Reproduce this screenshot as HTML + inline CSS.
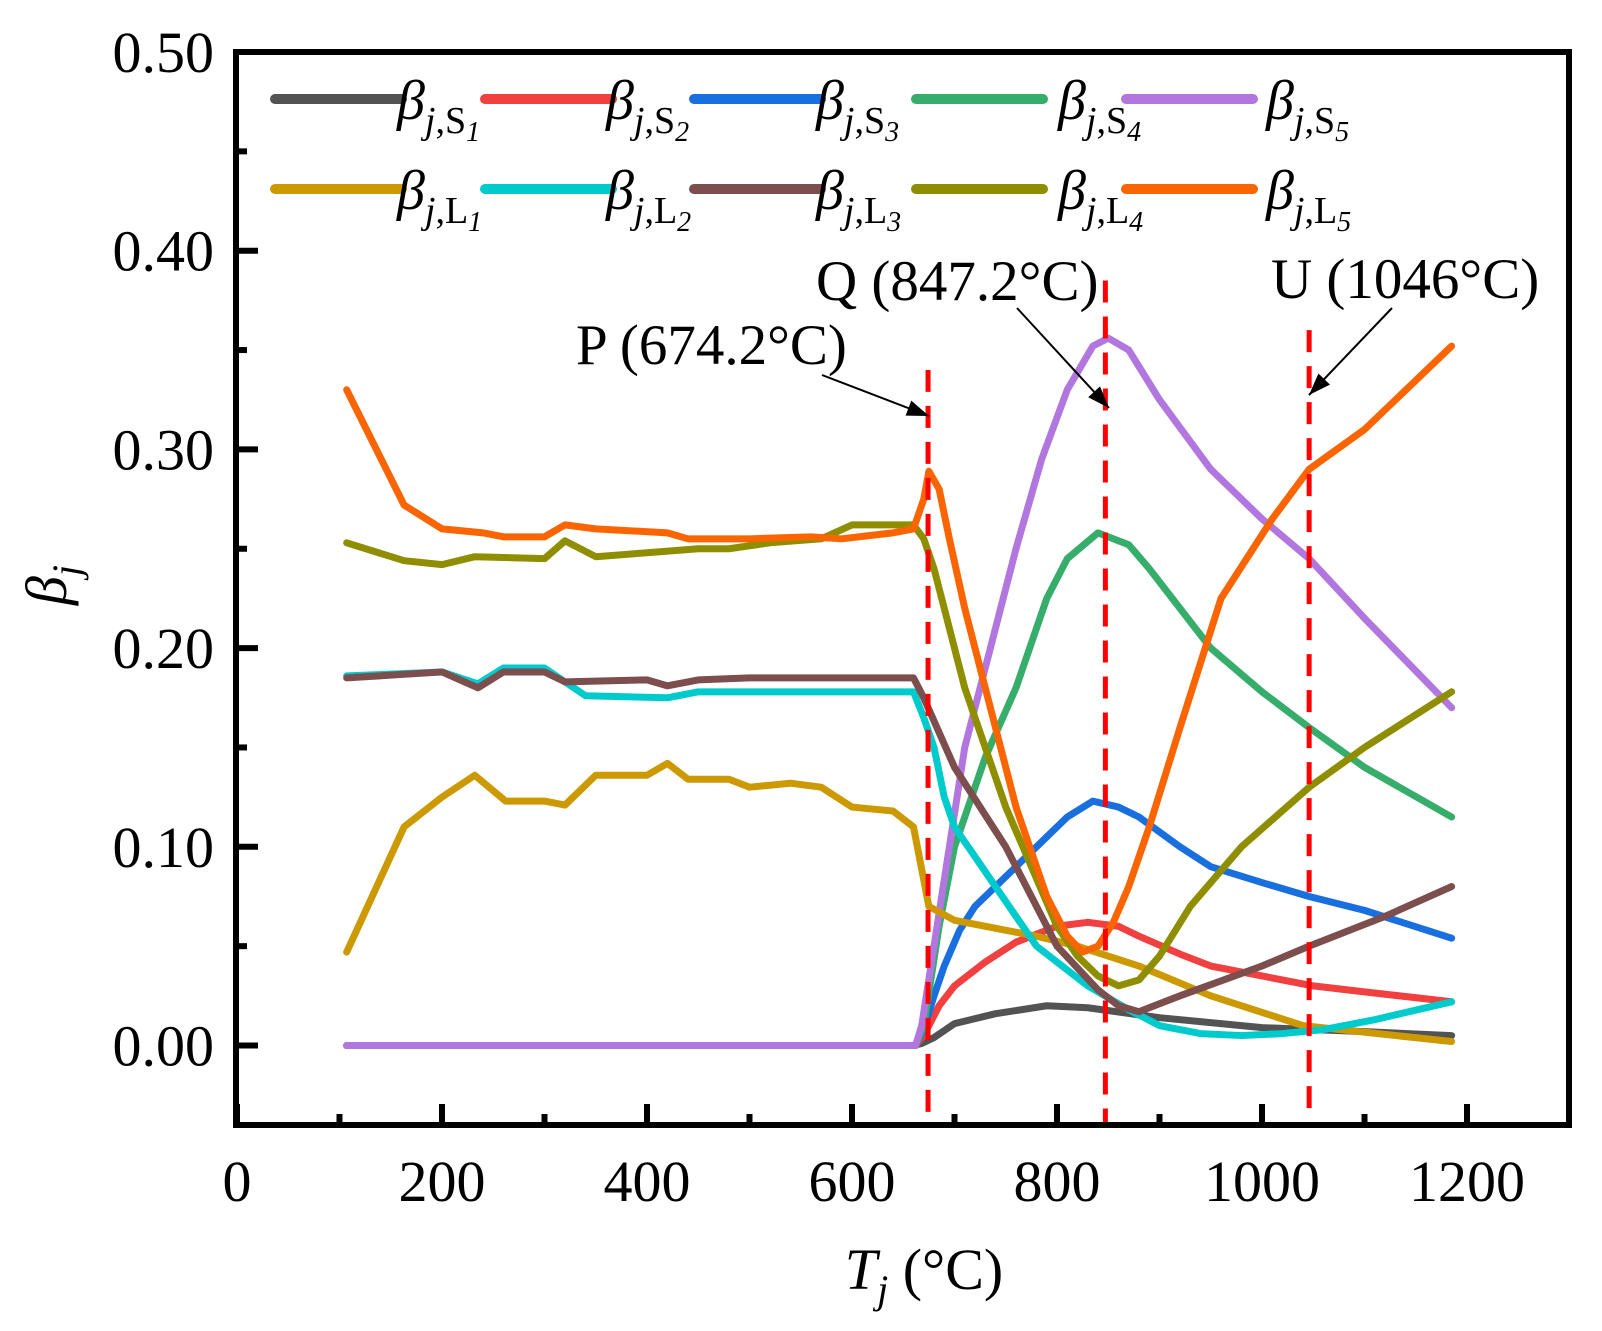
<!DOCTYPE html>
<html><head><meta charset="utf-8"><style>
body{margin:0;background:#fff}
svg{display:block;font-family:"Liberation Serif","DejaVu Serif",serif}
</style></head><body>
<svg id="chart" width="1602" height="1331" viewBox="0 0 1602 1331">
<g id="plot"></g>
<rect x="236" y="52" width="1333" height="1073" fill="none" stroke="#000" stroke-width="6"/>
<g id="axes"></g>
<g id="legend"></g>
<g id="annot">
<text x="576" y="364" font-size="57">P (674.2°C)</text>
<text x="816" y="300" font-size="57">Q (847.2°C)</text>
<text x="1271" y="298" font-size="57">U (1046°C)</text>
</g>
<text x="924" y="1289" font-size="58" text-anchor="middle"><tspan font-style="italic">T</tspan><tspan font-style="italic" font-size="40" dy="14">j</tspan><tspan dy="-14">  (°C)</tspan></text>
<text transform="translate(66,585) rotate(-90)" font-size="58" text-anchor="middle"><tspan font-style="italic">β</tspan><tspan font-style="italic" font-size="40" dy="14">j</tspan></text>
</svg>
<script>
const NS="http://www.w3.org/2000/svg";
const xTicks=[0,200,400,600,800,1000,1200];
const yTicks=[0,0.1,0.2,0.3,0.4,0.5];
const yTickLabels=["0.00","0.10","0.20","0.30","0.40","0.50"];
const markers=[674.2,847.2,1046];
const markerTop=[0.34,0.385,0.36];
const S1x=[107,660,668,680,700,740,790,830,900,1000,1100,1185];
const S1y=[0,0,0.001,0.004,0.011,0.016,0.02,0.019,0.014,0.009,0.007,0.005];
const S2x=[107,662,670,685,700,730,760,800,830,860,880,920,950,1000,1050,1100,1185];
const S2y=[0,0,0.005,0.02,0.03,0.042,0.052,0.06,0.062,0.06,0.055,0.046,0.04,0.035,0.03,0.027,0.022];
const S3x=[107,662,670,680,690,705,720,750,780,810,835,860,880,920,950,1000,1046,1100,1185];
const S3y=[0,0,0.008,0.025,0.04,0.058,0.07,0.085,0.1,0.115,0.123,0.12,0.115,0.1,0.09,0.082,0.075,0.068,0.054];
const S4x=[107,662,670,685,700,730,760,790,810,840,870,890,920,950,1000,1046,1100,1185];
const S4y=[0,0,0.01,0.06,0.1,0.145,0.18,0.225,0.245,0.258,0.252,0.24,0.22,0.2,0.178,0.16,0.14,0.115];
const S5x=[107,662,668,680,695,710,735,760,785,810,835,850,870,900,950,1000,1046,1100,1185];
const S5y=[0,0,0.01,0.05,0.1,0.15,0.2,0.25,0.295,0.33,0.352,0.356,0.35,0.325,0.29,0.265,0.245,0.215,0.17];
const L1x=[107,163,200,232,262,300,320,350,400,420,440,480,500,540,570,600,640,660,675,700,780,820,880,950,1040,1185];
const L1y=[0.047,0.11,0.125,0.136,0.123,0.123,0.121,0.136,0.136,0.142,0.134,0.134,0.13,0.132,0.13,0.12,0.118,0.11,0.07,0.063,0.055,0.05,0.04,0.025,0.01,0.002];
const L2x=[107,200,235,260,300,340,420,450,660,670,680,690,700,720,740,780,830,870,900,940,980,1020,1060,1110,1185];
const L2y=[0.186,0.188,0.182,0.19,0.19,0.176,0.175,0.178,0.178,0.165,0.15,0.125,0.11,0.095,0.08,0.05,0.03,0.018,0.01,0.006,0.005,0.006,0.008,0.013,0.022];
const L3x=[107,200,235,260,300,320,400,420,450,500,660,670,700,750,800,840,860,880,920,1000,1046,1120,1185];
const L3y=[0.185,0.188,0.18,0.188,0.188,0.183,0.184,0.181,0.184,0.185,0.185,0.175,0.14,0.1,0.05,0.028,0.02,0.017,0.025,0.04,0.05,0.065,0.08];
const L4x=[107,163,200,232,300,320,350,400,450,480,520,570,600,660,670,680,695,710,730,750,775,800,820,840,860,880,900,930,980,1046,1100,1185];
const L4y=[0.253,0.244,0.242,0.246,0.245,0.254,0.246,0.248,0.25,0.25,0.253,0.255,0.262,0.262,0.255,0.24,0.21,0.18,0.15,0.12,0.09,0.06,0.045,0.035,0.03,0.033,0.045,0.07,0.1,0.13,0.15,0.178];
const L5x=[107,163,200,240,260,300,320,350,420,440,500,560,590,640,660,670,675,685,695,710,730,760,790,810,825,840,855,870,890,920,960,1010,1046,1100,1185];
const L5y=[0.33,0.272,0.26,0.258,0.256,0.256,0.262,0.26,0.258,0.255,0.255,0.256,0.255,0.258,0.26,0.275,0.289,0.28,0.255,0.22,0.18,0.12,0.075,0.055,0.047,0.05,0.062,0.08,0.11,0.16,0.225,0.265,0.29,0.31,0.352];
const X=v=>237+v*1.025, Y=v=>1045.5-v*1987;
const series=[
["s1",S1x,S1y,"#535353"],["s2",S2x,S2y,"#f04040"],["s3",S3x,S3y,"#1a6fdf"],["s4",S4x,S4y,"#37ad6b"],["s5",S5x,S5y,"#b177de"],
["l1",L1x,L1y,"#cc9900"],["l2",L2x,L2y,"#00cbcc"],["l3",L3x,L3y,"#7d4e4e"],["l4",L4x,L4y,"#8e8e00"],["l5",L5x,L5y,"#fb6501"]];
const plot=document.getElementById('plot');
series.forEach(s=>{
 const p=document.createElementNS(NS,'polyline');
 p.setAttribute('points',s[1].map((x,i)=>X(x)+','+Y(s[2][i])).join(' '));
 p.setAttribute('fill','none');p.setAttribute('stroke',s[3]);p.setAttribute('stroke-width','7');
 p.setAttribute('stroke-linejoin','round');p.setAttribute('stroke-linecap','round');
 
 
 plot.appendChild(p);
});
markers.forEach((m,i)=>{
 const l=document.createElementNS(NS,'line');
 l.setAttribute('x1',X(m));l.setAttribute('x2',X(m));l.setAttribute('y1',Y(markerTop[i]));l.setAttribute('y2',1122);
 l.setAttribute('stroke','#ff0000');l.setAttribute('stroke-width','5');l.setAttribute('stroke-dasharray','22 14');
 
 
 plot.appendChild(l);
});
const arrows=[[822,375,929,416],[1017,308,1109,408],[1392,308,1309,395]];
const annot=document.getElementById('annot');
arrows.forEach(a=>{
 const l=document.createElementNS(NS,'line');
 l.setAttribute('x1',a[0]);l.setAttribute('y1',a[1]);l.setAttribute('x2',a[2]);l.setAttribute('y2',a[3]);
 l.setAttribute('stroke','#000');l.setAttribute('stroke-width','2');
 
 
 annot.appendChild(l);
 const ang=Math.atan2(a[3]-a[1],a[2]-a[0]),L=22,W=8;
 const bx=a[2]-L*Math.cos(ang),by=a[3]-L*Math.sin(ang);
 const h=document.createElementNS(NS,'polygon');
 h.setAttribute('points',`${a[2]},${a[3]} ${bx-W*Math.sin(ang)},${by+W*Math.cos(ang)} ${bx+W*Math.sin(ang)},${by-W*Math.cos(ang)}`);
 h.setAttribute('fill','#000');
 
 
 annot.appendChild(h);
});
const axes=document.getElementById('axes');
function ln(x1,y1,x2,y2,w){const l=document.createElementNS(NS,'line');l.setAttribute('x1',x1);l.setAttribute('y1',y1);l.setAttribute('x2',x2);l.setAttribute('y2',y2);l.setAttribute('stroke','#000');l.setAttribute('stroke-width',w);return l;}
function tx(x,y,s,anchor){const t=document.createElementNS(NS,'text');t.setAttribute('x',x);t.setAttribute('y',y);t.setAttribute('font-size','58');t.setAttribute('text-anchor',anchor);t.textContent=s;return t;}
xTicks.forEach((v,i)=>{
 const l=ln(X(v),1125,X(v),1104,6);
 
 
 axes.appendChild(l);
 if(i<xTicks.length-1){const m=ln(X(v+100),1125,X(v+100),1114,6);
 
 
 axes.appendChild(m);}
 const t=tx(X(v),1201,String(v),'middle');
 
 
 axes.appendChild(t);
});
yTicks.forEach((v,i)=>{
 const l=ln(236,Y(v),258,Y(v),6);
 
 
 axes.appendChild(l);
 if(v<0.45){const m=ln(236,Y(v+0.05),247,Y(v+0.05),6);
 
 
 axes.appendChild(m);}
 const t=tx(214,Y(v)+20,yTickLabels[i],'end');
 
 
 axes.appendChild(t);
});
const lgLineX=[275,485,694,916,1126];
const lgTextX=[397,606,816,1058,1266];
const lgRowY=[99,189];
const leg=document.getElementById('legend');
series.forEach((s,i)=>{
 const r=Math.floor(i/5),c=i%5;
 const l=ln(lgLineX[c],lgRowY[r],lgLineX[c]+127,lgRowY[r],10);
 l.setAttribute('stroke',s[3]);l.setAttribute('stroke-linecap','round');
 
 
 leg.appendChild(l);
 const t=document.createElementNS(NS,'text');
 t.setAttribute('x',lgTextX[c]);t.setAttribute('y',lgRowY[r]+20);t.setAttribute('font-size','56');
 const sub=r===0?'S':'L';
 t.innerHTML=`<tspan font-style="italic">β</tspan><tspan font-size="38" dy="14"><tspan font-style="italic">j</tspan>,${sub}</tspan><tspan font-size="28" dy="8" font-style="italic">${c+1}</tspan>`;
 
 
 leg.appendChild(t);
});
</script>
</body></html>
